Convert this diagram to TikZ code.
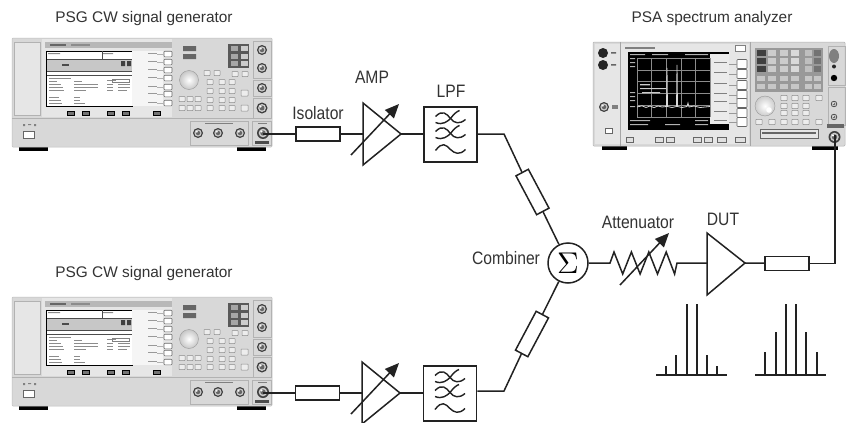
\documentclass[tikz,border=0pt]{standalone}
\usepackage{fontspec}
\usepackage{graphicx}
\setmainfont[FakeStretch=0.87]{Liberation Sans}
\newfontfamily\titlefont{Liberation Sans}
\usetikzlibrary{arrows.meta,calc}
\definecolor{ink}{HTML}{222222}
\definecolor{txt}{HTML}{333333}
\definecolor{bodyc}{HTML}{D8D8D8}
\definecolor{panelc}{HTML}{E6E6E6}
\definecolor{keyc}{HTML}{777777}
\tikzset{
  wire/.style={draw=ink,line width=1.5pt},
  isobox/.style={draw=ink,line width=1.5pt,fill=white,rectangle,minimum width=44pt,minimum height=14pt,inner sep=0pt},
  lpfbox/.style={draw=ink,line width=1.7pt,fill=white,rectangle,minimum width=53pt,minimum height=55pt,inner sep=0pt},
  sumc/.style={draw=ink,line width=1.5pt,fill=white,circle,minimum size=40pt,inner sep=0pt},
  lbl/.style={text=txt,font=\fontsize{18}{20}\selectfont,inner sep=0pt},
  ttl/.style={text=txt,font=\titlefont\fontsize{15.4}{18}\selectfont,inner sep=0pt},
  tune/.style={draw=ink,line width=1.5pt,-{Triangle[length=14pt,width=12pt]}},
  softkey/.style={draw=black!60,line width=.6pt,fill=white,rounded corners=.8pt},
  minikey/.style={draw=black!45,line width=.5pt,fill=white!93!black,rounded corners=.5pt},
  txtline/.style={fill=black!45},
}
% RF connector
\newcommand{\rfconn}[3]{%
  \fill[black!75] (#1,#2) circle (#3);
  \fill[white!80!black] (#1,#2) circle (#3*0.72);
  \fill[black!60] (#1,#2) circle (#3*0.45);
  \fill[white] (#1-#3*.25,#2-#3*.25) circle (#3*0.2);
}
\newcommand{\psgunit}{%
  \fill[black] (19,147) rectangle (48,151);
  \fill[black] (237,147) rectangle (266,151);
  \fill[bodyc,draw=black!25,line width=.5pt,rounded corners=1pt] (12,38) rectangle (272,147);
  \fill[panelc,draw=black!30,line width=.4pt] (14,42) rectangle (40,115);
  \fill[panelc] (42,39) rectangle (172,117);
  \draw[black!30,line width=.4pt] (12,118) -- (272,118);
  \fill[black!28] (45,42) rectangle (172,48);
  \fill[black!60] (50,44) rectangle (66,46);
  \fill[black!45] (71,44) rectangle (90,46);
  % screen
  \fill[white,draw=black,line width=1pt] (46,51) rectangle (132,106);
  \fill[black!22] (47,59) rectangle (132,71);
  \draw[black!70,line width=.4pt] (102,51) -- (102,59) (47,59) -- (132,59) (47,71) -- (132,71) (47,75) -- (132,75);
  \fill[black!75] (121,61) rectangle (125,66) (127,61) rectangle (131,66);
  \fill[black!70] (62,64) rectangle (69,66);
  \fill[txtline] (48,53) rectangle (60,54) (103,53) rectangle (113,54);
  \foreach \x/\y/\w in {49/78/22,49/81/8,49/84/12,49/87/14,49/90/15,49/97/10,49/100/12,49/103/13,
     74/81/8,74/84/24,74/87/24,74/90/12,74/97/6,74/100/6,74/103/11,
     107/84/6,107/87/6,107/90/6,118/84/12,118/87/12,118/90/9,107/80/9}
    \fill[txtline] (\x,\y) rectangle ++(\w,.9);
  \draw[black!50,line width=.4pt] (112,79) rectangle (129,82);
  % softkeys
  \fill[white!96!black] (132,51) rectangle (163,106);
  \foreach \y in {54,62,70,78,87,94,103}{
    \fill[black!40] (148,\y-1) rectangle (157,\y);
    \draw[softkey] (164,\y-2.8) rectangle (172,\y+2.8);
    \draw[black!30,line width=.3pt] (157,\y) -- (164,\y);
  }
  \foreach \x in {67,82,107,122,153}
    \draw[line width=.5pt,fill=black!55] (\x,111) rectangle (\x+7.5,115);
  % right panel
  \fill[black!60] (183,46) rectangle (196,51) (183,54) rectangle (196,59);
  \fill[black!65] (228,44) rectangle (249,68);
  \foreach \y in {46,53.5,61}{
    \fill[black!35] (230.5,\y) rectangle (237.5,\y+5);
    \fill[black!20] (240.5,\y) rectangle (247.5,\y+5);
  }
  \shade[inner color=white,outer color=black!22,draw=black!40,line width=.4pt] (189,80) circle (9.5);
  \foreach \x/\y in {207/73,217/73,235/74,245/74,
     210/82,222/82,232/82,210/91,222/91,232/91,210/100,222/100,232/100,210/108,222/108,232/108,
     182/99,190/99,198/99,182/108,190/108,198/108}
    \draw[minikey] (\x-3,\y-2.5) rectangle (\x+3,\y+2.5);
  \draw[minikey] (241,90) rectangle (248,96);
  \draw[minikey] (241,105) rectangle (248,111);
  % connector columns
  \draw[black!30,line width=.4pt] (253,41) rectangle (271,78) (253,80) rectangle (271,96) (253,98) rectangle (271,118);
  \rfconn{262}{50}{5}\rfconn{262}{68}{5}\rfconn{262}{88}{5}\rfconn{262}{108}{5.5}
  \draw[black!30,line width=.4pt] (190,121) rectangle (248,145) (252,121) rectangle (271,145);
  \fill[black!50] (205,123) rectangle (233,124);
  \rfconn{198}{133}{5}\rfconn{218}{133}{5}\rfconn{240}{133}{5}\rfconn{263}{133}{6}
  \fill[black!70] (255,141) rectangle (269,144);
  \fill[black!50] (258,122.5) rectangle (267,124);
  % power switch
  \fill[white,draw=black!60,line width=.5pt] (23,131) rectangle (34,138);
  \fill[black!50] (23,124) rectangle (25,126) (34,124) rectangle (36,126) (28,124) rectangle (31,125);
}
\newcommand{\waves}[2]{%
  \begin{scope}[shift={(#1,#2)},draw=ink,line width=1.4pt]
    \foreach \dy in {-16,-1}{
      \draw (-15,\dy-2) .. controls (-8,\dy-9) and (-4,\dy-5) .. (0,\dy) .. controls (4,\dy+5) and (9,\dy+6) .. (15,\dy+1);
      \draw (-15,\dy+4) .. controls (-8,\dy+7) and (-3,\dy+3) .. (0,\dy) .. controls (3,\dy-4) and (6,\dy-7) .. (9,\dy-8);
    }
    \draw (-15,16) .. controls (-8,7) and (-5,10) .. (0,15) .. controls (4,19) and (9,21) .. (15,15);
  \end{scope}%
}
\begin{document}
\begin{tikzpicture}[x=1pt,y=-1pt]
\useasboundingbox (0,0) rectangle (846,423);
\fill[white] (0,0) rectangle (846,423);
%
\begin{scope}\psgunit\end{scope}
\begin{scope}[shift={(0,259)}]\psgunit\end{scope}
% PSA
\fill[black] (602,146) rectangle (627,150);
\fill[black] (812,146) rectangle (838,150);
\fill[bodyc,draw=black!30,line width=.5pt,rounded corners=1pt] (593,42) rectangle (845,146);
\fill[panelc] (595,44) rectangle (620,144);
\fill[panelc] (621,44) rectangle (749,144);
\draw[black!35,line width=.4pt] (620,42) -- (620,146) (750,42) -- (750,146);
\fill[black!50] (625,47) rectangle (655,49);
\draw[black!50,line width=.4pt,fill=white] (735,45) rectangle (745,51);
% PSA left
\fill[black!85] (603,53) circle (5);
\fill[black!85] (603,65) circle (5);
\fill[black!60] (611,52) rectangle (616,53.5) (611,64) rectangle (616,65.5);
\rfconn{604}{107}{5}
\fill[black!50] (612,105) rectangle (618,109);
\draw[black!60,line width=.5pt,fill=white] (605,128) rectangle (612,133);
% PSA screen
\fill[black] (628,52) rectangle (729,130);
\fill[white!92!black] (710,54) rectangle (729,124);
\foreach \y in {64,74,85,95,103,113,122}{
  \draw[softkey] (737,\y-4.5) rectangle (747,\y+4.5);
  \draw[black!40,line width=.3pt] (729,\y) -- (737,\y);
  \fill[black!50] (714,\y-2) rectangle (727,\y-1);
}
\foreach \x in {637,651.6,666.2,680.8,695.4,710}
  \draw[black!45,line width=.3pt] (\x,58) -- (\x,117);
\foreach \y in {58,69.8,81.6,93.4,105.2,117}
  \draw[black!45,line width=.3pt] (637,\y) -- (710,\y);
\draw[white!85!black,line width=.8pt] (637,107) -- (642,105.8) -- (646,107.5) -- (650,106) -- (654,107.6) -- (658,106) -- (662,107) -- (666.5,106.5) -- (667,68) -- (667.5,106.5) -- (672,107.5) -- (676.5,106.5) -- (677,65) -- (677.5,106.5) -- (682,107.5) -- (687,106.5) -- (688,103) -- (689,107) -- (694,106) -- (700,107.5) -- (710,106.5);
\fill[white!80!black] (640,84) rectangle (650,85.3) (640,88) rectangle (666,89.2) (642,92) rectangle (660,93.2);
\fill[white!70!black] (630,58) rectangle (635,59) (630,62) rectangle (635,63) (630,66) rectangle (635,67) (630,92) rectangle (635,93) (630,96) rectangle (635,97) (630,100) rectangle (635,101) (630,106) rectangle (635,107);
\fill[white!70!black] (630,54) rectangle (645,55) (652,54) rectangle (668,55) (685,54) rectangle (708,55) (630,120) rectangle (650,121) (630,124) rectangle (648,125) (665,124) rectangle (680,125) (695,120) rectangle (708,121) (695,124) rectangle (708,125);
% PSA buttons below screen
\foreach \xa/\xb in {626/633,655/663,666/674,693/701,704/712,717/726,735/745}
  \draw[black!60,line width=.5pt,fill=white!88!black] (\xa,137) rectangle (\xb,142);
% PSA key block
\fill[black!40] (755,48) rectangle (823,92);
\foreach \y in {50,58,66}{
  \fill[black!75] (757,\y) rectangle (766,\y+6);
  \fill[black!20] (768,\y) rectangle (776,\y+6);
  \fill[black!20] (780,\y) rectangle (788,\y+6);
  \fill[white!85!black] (791,\y) rectangle (799,\y+6);
  \fill[black!25] (805,\y) rectangle (812,\y+6);
  \fill[black!55] (814,\y) rectangle (821,\y+6);
}
\foreach \x/\w in {757/8,768/8,780/8,791/8,805/7,814/7}{
  \fill[black!22] (\x,76) rectangle ++(\w,5);
  \fill[black!22] (\x,84) rectangle ++(\w,5);
}
\shade[inner color=white,outer color=black!20,draw=black!40,line width=.4pt] (765,106) circle (10);
\fill[white] (769,110) circle (2.8);
\foreach \x/\y in {784/98,795/98,806/98,819/98,784/106,795/106,806/106,784/113,795/113,806/113,
    759/122,772/122,784/122,795/122,806/122,819/122}
  \draw[minikey] (\x-3.2,\y-2.6) rectangle (\x+3.2,\y+2.6);
\draw[black!60,line width=.5pt,fill=white!90!black] (760,129) rectangle (818,138);
\fill[black!60] (762,132) rectangle (816,134);
% PSA right column
\draw[black!30,line width=.4pt] (828,46) rectangle (845,85) (828,87) rectangle (845,125);
\fill[black!50] (834,56) ellipse (5 and 7);
\fill[black!85] (834,66.5) circle (2);
\fill[black] (834,78) circle (3.2);
\rfconn{834}{104}{3.2}\rfconn{834}{117}{3.2}
\fill[black!60] (827,124) rectangle (844,128);
\rfconn{834.5}{137}{6}
%
% RF chain, top
\coordinate (gen1) at (263,134);
\node[isobox] (iso1) at (318,134) {};
\coordinate (amp1in) at (363,134);
\coordinate (amp1out) at (401,134);
\coordinate (amp1top) at (363,103);
\coordinate (amp1bot) at (363,165);
\coordinate (t1a) at (351,155);
\coordinate (t1b) at (399,104);
\node[lpfbox] (lpf1) at (450.5,134.5) {};
\waves{450.5}{134.5}
\coordinate (bend1) at (504,134);
\node[isobox,rotate=-62] (iso2) at (532.5,192) {};
\node[sumc] (sum) at (568,263) {\scalebox{3}{$\Sigma$}};
% RF chain, bottom
\coordinate (gen2) at (263,393);
\node[isobox] (iso3) at (317.5,393) {};
\coordinate (amp2in) at (362,393);
\coordinate (amp2out) at (400,393);
\coordinate (amp2top) at (362,362);
\coordinate (amp2bot) at (362,424);
\coordinate (t2a) at (351,414);
\coordinate (t2b) at (399,363);
\node[lpfbox] (lpf2) at (450,393.5) {};
\waves{450}{393.5}
\coordinate (bend2) at (504,391);
\node[isobox,rotate=62] (iso4) at (532,334) {};
% Right chain
\coordinate (atin) at (610,263);
\coordinate (atout) at (677,263);
\coordinate (dutin) at (707,263);
\coordinate (dutout) at (745,263);
\coordinate (duttop) at (707,233);
\coordinate (dutbot) at (707,295);
\coordinate (t3a) at (620,285);
\coordinate (t3b) at (669,233);
\node[isobox] (iso5) at (787,263.5) {};
\coordinate (bend3) at (835,263.5);
\coordinate (psain) at (835,135);
%
\draw[wire] (gen1) -- (iso1);
\draw[wire] (iso1) -- (amp1in);
\draw[wire] (amp1out) -- (lpf1.west |- amp1out);
\draw[wire] (lpf1.east |- bend1) -- (bend1) -- (iso2.west);
\draw[wire] (iso2.east) -- (sum);
\draw[wire] (gen2) -- (iso3);
\draw[wire] (iso3) -- (amp2in);
\draw[wire] (amp2out) -- (lpf2.west |- amp2out);
\draw[wire] (lpf2.east |- bend2) -- (bend2) -- (iso4.west);
\draw[wire] (iso4.east) -- (sum);
\draw[wire] (sum.east) -- (atin) -- ++(4,-11) -- ++(8.7,22) -- ++(8.7,-22) -- ++(8.7,22) -- ++(8.7,-22) -- ++(8.7,22) -- ++(8.7,-22) -- ++(8.4,22) -- (atout) -- (dutin);
\draw[wire] (dutout) -- (iso5);
\draw[wire] (iso5) -- (bend3) -- (psain);
\node[isobox] at (iso1) {};
\node[isobox] at (iso3) {};
\node[isobox] at (iso5) {};
% amplifiers
\draw[wire,line join=miter,fill=white] (amp1top) -- (amp1out) -- (amp1bot) -- cycle;
\draw[wire,line join=miter,fill=white] (amp2top) -- (amp2out) -- (amp2bot) -- cycle;
\draw[wire,line join=miter,fill=white] (duttop) -- (dutout) -- (dutbot) -- cycle;
\draw[tune] (t1a) -- (t1b);
\draw[tune] (t2a) -- (t2b);
\draw[tune] (t3a) -- (t3b);
% spectra
\draw[wire] (656,375) -- (727,375);
\foreach \x/\y in {666/366,676/355,687/304,697/304,707/355,717/366}
  \draw[wire] (\x,375) -- (\x,\y);
\draw[wire] (755,375) -- (826,375);
\foreach \x/\y in {765/352,776/332,786/304,796/304,806/332,817/352}
  \draw[wire] (\x,375) -- (\x,\y);
% labels
\node[ttl] (l1) at (144,19) {PSG CW signal generator};
\node[ttl] (l2) at (144,274) {PSG CW signal generator};
\node[ttl] (l3) at (712,19) {PSA spectrum analyzer};
\node[lbl] (l4) at (318,113) {Isolator};
\node[lbl] (l5) at (372,77) {AMP};
\node[lbl] (l6) at (451,91) {LPF};
\node[lbl] (l7) at (506,258) {Combiner};
\node[lbl] (l8) at (638,222) {Attenuator};
\node[lbl] (l9) at (723,219) {DUT};
\end{tikzpicture}
\end{document}
